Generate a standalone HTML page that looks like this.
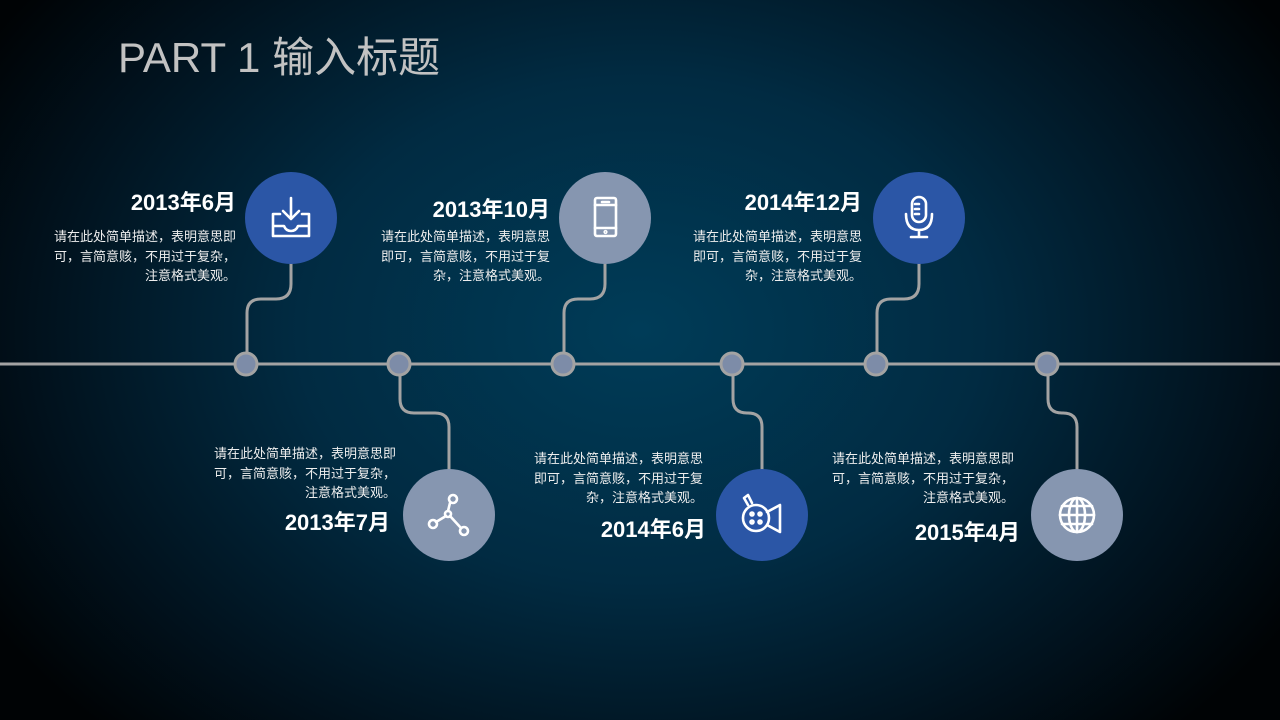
<!DOCTYPE html>
<html><head><meta charset="utf-8"><style>
html,body{margin:0;padding:0}
body{width:1280px;height:720px;overflow:hidden;position:relative;
background:radial-gradient(ellipse 760px 560px at 640px 330px,#003c58 0%,#012b42 45%,#01111c 80%,#000305 100%);
font-family:"Liberation Sans","Noto Sans CJK SC",sans-serif;color:#fff}
.t{position:absolute;white-space:nowrap}
.title{left:118px;top:24px;font-size:42px;font-weight:normal;color:#c2c2c2}
.d{font-size:22px;font-weight:bold;text-align:right;transform:translateX(-100%)}
.p{font-size:13px;line-height:19.5px;text-align:right;color:#eee}
.p div{text-align:right}
</style></head><body>
<div class="t title">PART 1 输入标题</div>
<svg width="1280" height="720" style="position:absolute;left:0;top:0">
<line x1="0" y1="364" x2="1280" y2="364" stroke="#a3a3a3" stroke-width="3"/>
<g fill="none" stroke="#a3a3a3" stroke-width="3">
<path d="M291,262 V284 Q291,299 276,299 H261 Q247,299 247,313 V352"/>
<path d="M605,262 V284 Q605,299 590,299 H578 Q564,299 564,313 V352"/>
<path d="M919,262 V284 Q919,299 904,299 H891 Q877,299 877,313 V352"/>
<path d="M400,376 V399 Q400,413 414,413 H435 Q449,413 449,427 V470"/>
<path d="M733,376 V399 Q733,413 747,413 H748 Q762,413 762,427 V470"/>
<path d="M1048,376 V399 Q1048,413 1062,413 H1063 Q1077,413 1077,427 V470"/>
</g>
<g fill="#7d8ca8" stroke="#a3a3a3" stroke-width="3">
<circle cx="246" cy="364" r="11"/><circle cx="399" cy="364" r="11"/><circle cx="563" cy="364" r="11"/>
<circle cx="732" cy="364" r="11"/><circle cx="876" cy="364" r="11"/><circle cx="1047" cy="364" r="11"/>
</g>
<circle cx="291" cy="218" r="46" fill="#2b56a6"/>
<circle cx="605" cy="218" r="46" fill="#8696b0"/>
<circle cx="919" cy="218" r="46" fill="#2b56a6"/>
<circle cx="449" cy="515" r="46" fill="#8696b0"/>
<circle cx="762" cy="515" r="46" fill="#2b56a6"/>
<circle cx="1077" cy="515" r="46" fill="#8696b0"/>
<g fill="none" stroke="#fff" stroke-width="2.6" stroke-linecap="round" stroke-linejoin="round">
<path d="M291,198 V218 M283,211 L291,219 L299,211"/>
<path d="M280,214 H273 V236 H309 V214 H302 M273,226 H284 Q286,231 291,231 Q296,231 298,226 H309"/>
<rect x="595" y="198" width="21" height="38" rx="2"/>
<path d="M595,205 H616 M595,228 H616 M602,202 H609"/><circle cx="605.5" cy="232" r="0.8"/>
<rect x="912" y="197" width="14" height="25" rx="7"/>
<path d="M906,214 Q906,230 919,230 Q932,230 932,214 M919,230 V236 M911,237 H927 M915,204 H919 M915,209 H919 M915,214 H919"/>
<circle cx="433" cy="524" r="4"/><circle cx="453" cy="499" r="4"/><circle cx="464" cy="531" r="4"/><circle cx="448" cy="514" r="3"/>
<path d="M436,522 L446,516 M450,503 L448,511 M450,516 L461,528"/>
<circle cx="756" cy="518" r="13"/>
<path d="M767,512 L780,505 V532 L767,525 M748,505 L744,498 L748,495 L752,503"/>
<circle cx="752" cy="514" r="1.5"/><circle cx="760" cy="514" r="1.5"/><circle cx="752" cy="522" r="1.5"/><circle cx="760" cy="522" r="1.5"/>
<circle cx="1077" cy="515" r="17"/>
<ellipse cx="1077" cy="515" rx="8" ry="17"/>
<path d="M1060,515 H1094 M1062,506 H1092 M1062,524 H1092 M1077,498 V532"/>
</g>
</svg>

<div class="t d" style="left:236px;top:185px">2013年6月</div>
<div class="t p" style="left:52px;top:227px;width:184px"><div>请在此处简单描述，表明意思即</div><div>可，言简意赅，不用过于复杂，</div><div>注意格式美观。</div></div>

<div class="t d" style="left:550px;top:192px">2013年10月</div>
<div class="t p" style="left:380px;top:227px;width:170px"><div>请在此处简单描述，表明意思</div><div>即可，言简意赅，不用过于复</div><div>杂，注意格式美观。</div></div>

<div class="t d" style="left:862px;top:185px">2014年12月</div>
<div class="t p" style="left:692px;top:227px;width:170px"><div>请在此处简单描述，表明意思</div><div>即可，言简意赅，不用过于复</div><div>杂，注意格式美观。</div></div>

<div class="t p" style="left:212px;top:444px;width:184px"><div>请在此处简单描述，表明意思即</div><div>可，言简意赅，不用过于复杂，</div><div>注意格式美观。</div></div>
<div class="t d" style="left:390px;top:505px">2013年7月</div>

<div class="t p" style="left:533px;top:449px;width:170px"><div>请在此处简单描述，表明意思</div><div>即可，言简意赅，不用过于复</div><div>杂，注意格式美观。</div></div>
<div class="t d" style="left:706px;top:512px">2014年6月</div>

<div class="t p" style="left:830px;top:449px;width:184px"><div>请在此处简单描述，表明意思即</div><div>可，言简意赅，不用过于复杂，</div><div>注意格式美观。</div></div>
<div class="t d" style="left:1020px;top:515px">2015年4月</div>
</body></html>
